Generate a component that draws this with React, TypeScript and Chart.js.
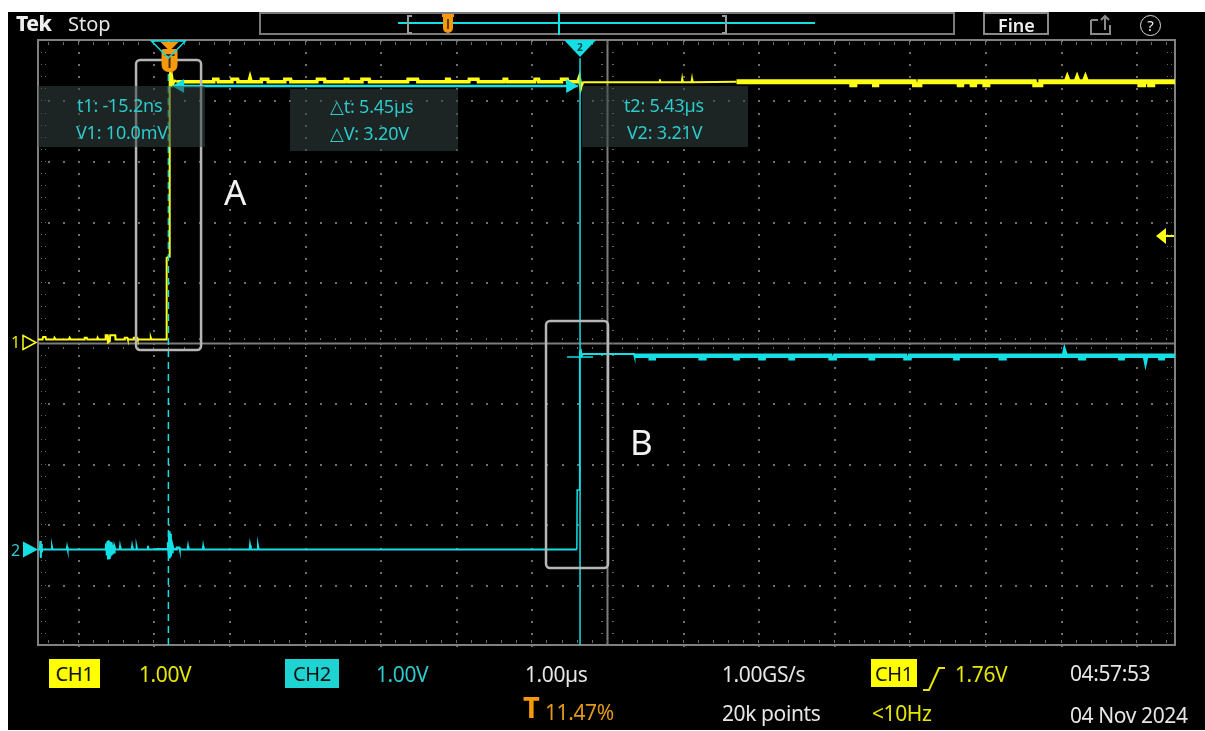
import React, { useEffect, useRef } from "react";
import { Chart, registerables } from "chart.js";

Chart.register(...registerables);

// ---------- acquisition settings (µs on x, divisions on y) ----------
const X_MIN_US = -1.74;
const X_MAX_US = 13.3;
const GRID_CENTER_US = 5.786;
const US_PER_DIV = 1.0;
const H_MAJOR_HALF = 7;
const V_DIV_HALF = 5;
const CH1_VOLTS_PER_DIV = 1.0;
const CH2_VOLTS_PER_DIV = 1.0;
const CH1_POSITION_DIV = 0;
const CH2_POSITION_DIV = -3.42;
const TRIGGER_TIME_US = 0;
const TRIGGER_LEVEL_V = 1.76;
const CURSOR_T1_US = -0.0152;
const CURSOR_T2_US = 5.43;
const CURSOR_V1 = 0.01;
const CURSOR_V2 = 3.21;
const DELTA_ARROW_DIV = 4.24;
const arrowLineTimes = [0.08, 5.4];
const arrowHeadTimes = [0.14, 5.3];

// zoom boxes marked on the capture: [tStart, tEnd, divTop, divBottom]
const boxA = [-0.443, 0.417, 4.67, -0.124];
const boxB = [4.98, 5.8, 0.355, -3.727];

// ---------- CH1 samples [t µs, V] ----------
const ch1Samples: [number, number][] = [
  [-1.74, 0.05], [-1.68, 0.05], [-1.672, 0.09], [-1.64, 0.09], [-1.632, 0.05],
  [-1.53, 0.05], [-1.522, 0.08], [-1.505, 0.05],
  [-1.33, 0.05], [-1.322, 0.08], [-1.305, 0.05],
  [-1.13, 0.05], [-1.122, 0.08], [-1.095, 0.08], [-1.087, 0.05],
  [-0.96, 0.05], [-0.952, 0.08], [-0.94, 0.05],
  [-0.85, 0.05], [-0.845, 0.12], [-0.82, 0.12], [-0.815, 0.0], [-0.79, 0.02], [-0.785, 0.12], [-0.72, 0.12], [-0.715, 0.05],
  [-0.6, 0.05], [-0.592, 0.08], [-0.56, 0.08], [-0.552, 0.05],
  [-0.48, 0.05], [-0.472, 0.08], [-0.43, 0.08], [-0.422, 0.05],
  [-0.255, 0.05], [-0.248, 0.08], [-0.24, 0.05],
  [-0.045, 0.05], [-0.038, 1.4], [-0.005, 1.42], [0.002, 4.4], [0.01, 4.48], [0.02, 4.22], [0.035, 4.4], [0.05, 4.27], [0.07, 4.33], [0.1, 4.31],
  [0.58, 4.31], [0.585, 4.35], [0.64, 4.35], [0.645, 4.31],
  [0.82, 4.31], [0.825, 4.35], [0.9, 4.35], [0.905, 4.31],
  [1.05, 4.31], [1.065, 4.38], [1.08, 4.31],
  [1.21, 4.31], [1.215, 4.35], [1.3, 4.35], [1.305, 4.31],
  [1.52, 4.31], [1.525, 4.35], [1.6, 4.35], [1.605, 4.31],
  [1.95, 4.31], [1.955, 4.35], [2.05, 4.35], [2.055, 4.31],
  [2.32, 4.31], [2.325, 4.35], [2.36, 4.35], [2.365, 4.31],
  [2.54, 4.31], [2.545, 4.35], [2.64, 4.35], [2.645, 4.31],
  [3.15, 4.31], [3.155, 4.35], [3.28, 4.35], [3.285, 4.31],
  [3.66, 4.31], [3.665, 4.35], [3.7, 4.35], [3.705, 4.31],
  [3.96, 4.31], [3.965, 4.35], [4.08, 4.35], [4.085, 4.31],
  [4.42, 4.31], [4.425, 4.35], [4.46, 4.35], [4.465, 4.31],
  [4.83, 4.31], [4.835, 4.35], [4.88, 4.35], [4.885, 4.31],
  [5.18, 4.31], [5.185, 4.35], [5.26, 4.35], [5.265, 4.31],
  [5.4, 4.31], [5.42, 4.38], [5.44, 4.22], [5.46, 4.3],
  [6.48, 4.3], [6.486, 4.35], [6.492, 4.3],
  [6.775, 4.3], [6.781, 4.35], [6.787, 4.3],
  [6.905, 4.3], [6.911, 4.35], [6.917, 4.3],
  [7.5, 4.31],
  [9.02, 4.31], [9.025, 4.26], [9.06, 4.26], [9.065, 4.31],
  [9.32, 4.31], [9.325, 4.26], [9.35, 4.26], [9.355, 4.31],
  [9.85, 4.31], [9.855, 4.26], [9.92, 4.26], [9.925, 4.31],
  [10.44, 4.31], [10.445, 4.26], [10.48, 4.26], [10.485, 4.31],
  [10.61, 4.31], [10.615, 4.26], [10.65, 4.26], [10.655, 4.31],
  [10.78, 4.31], [10.785, 4.26], [10.82, 4.26], [10.825, 4.31],
  [11.44, 4.31], [11.445, 4.26], [11.52, 4.26], [11.525, 4.31],
  [11.86, 4.31], [11.875, 4.36], [11.89, 4.31],
  [11.99, 4.31], [12.005, 4.36], [12.02, 4.31],
  [12.1, 4.31], [12.115, 4.36], [12.13, 4.31],
  [12.83, 4.31], [12.835, 4.26], [12.88, 4.26], [12.885, 4.31],
  [12.96, 4.31], [12.965, 4.26], [13.0, 4.26], [13.005, 4.31],
  [13.3, 4.31],
];

// ---------- CH2 samples [t µs, V] ----------
const ch2Samples: [number, number][] = [
  [-1.74, 0.0], [-1.715, 0.0], [-1.71, 0.14], [-1.703, -0.14], [-1.696, 0.09], [-1.69, -0.05], [-1.683, 0.0],
  [-1.56, 0.0], [-1.555, 0.04], [-1.548, 0.0],
  [-1.36, 0.0], [-1.355, 0.04], [-1.348, 0.0],
  [-0.845, 0.0], [-0.838, 0.1], [-0.83, -0.1], [-0.822, 0.14], [-0.814, -0.15], [-0.806, 0.15], [-0.798, -0.14],
  [-0.79, 0.13], [-0.782, -0.12], [-0.774, 0.12], [-0.766, -0.1], [-0.758, 0.08], [-0.75, -0.08], [-0.742, 0.06],
  [-0.734, -0.05], [-0.726, 0.04], [-0.716, 0.0],
  [-0.66, 0.0], [-0.655, 0.05], [-0.648, 0.0],
  [-0.5, 0.0], [-0.495, 0.05], [-0.488, 0.0],
  [-0.44, 0.0], [-0.435, 0.04], [-0.428, 0.0],
  [-0.29, 0.0], [-0.285, 0.06], [-0.278, 0.0],
  [-0.03, 0.0], [-0.022, 0.12], [-0.014, -0.08], [-0.006, 0.3], [0.002, -0.15], [0.01, 0.26], [0.018, -0.12],
  [0.026, 0.15], [0.034, -0.05], [0.042, 0.06], [0.055, 0.0],
  [0.09, 0.0], [0.095, 0.03], [0.13, 0.03], [0.135, 0.0],
  [0.24, 0.0], [0.245, 0.05], [0.252, 0.0],
  [0.44, 0.0], [0.445, 0.05], [0.452, 0.0],
  [1.06, 0.0], [1.065, 0.07], [1.075, 0.0],
  [1.165, 0.0], [1.17, 0.06], [1.18, 0.0],
  [5.388, 0.0], [5.392, 0.98], [5.42, 0.98], [5.425, 3.27], [5.44, 3.29], [5.452, 3.2], [5.47, 3.23],
  [6.144, 3.23], [6.15, 3.2],
  [6.36, 3.2], [6.365, 3.16], [6.4, 3.16], [6.405, 3.2],
  [7.02, 3.2], [7.025, 3.16], [7.07, 3.16], [7.075, 3.2],
  [7.48, 3.2], [7.485, 3.16], [7.51, 3.16], [7.515, 3.2],
  [7.81, 3.2], [7.815, 3.16], [7.86, 3.16], [7.865, 3.2],
  [8.21, 3.2], [8.215, 3.16], [8.24, 3.16], [8.245, 3.2],
  [8.74, 3.2], [8.745, 3.16], [8.8, 3.16], [8.805, 3.2],
  [9.27, 3.2], [9.275, 3.16], [9.3, 3.16], [9.305, 3.2],
  [9.73, 3.2], [9.735, 3.16], [9.79, 3.16], [9.795, 3.2],
  [10.39, 3.2], [10.395, 3.16], [10.42, 3.16], [10.425, 3.2],
  [10.99, 3.2], [10.995, 3.16], [11.04, 3.16], [11.045, 3.2],
  [11.83, 3.2], [11.84, 3.26], [11.855, 3.2],
  [12.04, 3.2], [12.045, 3.16], [12.09, 3.16], [12.095, 3.2],
  [12.57, 3.2], [12.575, 3.16], [12.61, 3.16], [12.615, 3.2],
  [12.9, 3.2], [12.91, 3.14], [12.92, 3.2],
  [13.1, 3.2], [13.105, 3.16], [13.14, 3.16], [13.145, 3.2],
  [13.3, 3.2],
];

// ---------- colours / fonts ----------
const YELLOW = "#ffff14";
const CYAN = "#14dfe4";
const CYAN_TXT = "#2ccaca";
const YELLOW_TXT = "#e6e600";
const ORANGE = "#f49a0c";
const WHITE_TXT = "#e6e6e6";
const FONT = '"Noto Sans", "DejaVu Sans", sans-serif';

const ch1Div = (v: number) => v / CH1_VOLTS_PER_DIV + CH1_POSITION_DIV;
const ch2Div = (v: number) => v / CH2_VOLTS_PER_DIV + CH2_POSITION_DIV;

const graticulePlugin = {
  id: "graticule",
  beforeDatasetsDraw(chart: any) {
    const { ctx, chartArea: a, scales } = chart;
    const xs = scales.x;
    const ys = scales.y;
    const px = (t: number) => Math.round(xs.getPixelForValue(t));
    const py = (d: number) => Math.round(ys.getPixelForValue(d));
    const xMinor: number[] = [];
    for (let m = -40; m <= 40; m++) {
      const t = GRID_CENTER_US + (m * US_PER_DIV) / 5;
      if (t > X_MIN_US && t < X_MAX_US) xMinor.push(t);
    }
    const yMinor: number[] = [];
    for (let m = -V_DIV_HALF * 5; m <= V_DIV_HALF * 5; m++) yMinor.push(m / 5);
    ctx.save();
    ctx.fillStyle = "#6e6e6e";
    for (let k = -H_MAJOR_HALF; k <= H_MAJOR_HALF; k++) {
      if (k === 0) continue;
      const x = px(GRID_CENTER_US + k * US_PER_DIV);
      for (const d of yMinor) ctx.fillRect(x, py(d), 2, 2);
    }
    for (let j = -V_DIV_HALF + 1; j < V_DIV_HALF; j++) {
      if (j === 0) continue;
      const y = py(j);
      for (const t of xMinor) ctx.fillRect(px(t), y, 2, 2);
    }
    ctx.strokeStyle = "#7c7c7c";
    ctx.lineWidth = 2;
    const cx = px(GRID_CENTER_US);
    const cy = py(0);
    ctx.beginPath();
    ctx.moveTo(a.left, cy + 0.5);
    ctx.lineTo(a.right, cy + 0.5);
    ctx.moveTo(cx + 0.5, a.top);
    ctx.lineTo(cx + 0.5, a.bottom);
    ctx.stroke();
    ctx.fillStyle = "#6a6a6a";
    for (const t of xMinor) {
      const x = px(t);
      ctx.fillRect(x, cy - 5, 1, 2);
      ctx.fillRect(x, cy + 4, 1, 2);
      ctx.fillRect(x, a.top + 2, 1, 3);
      ctx.fillRect(x, a.bottom - 5, 1, 3);
    }
    for (const d of yMinor) {
      const y = py(d);
      ctx.fillRect(cx - 6, y, 2, 1);
      ctx.fillRect(cx + 5, y, 2, 1);
      ctx.fillRect(a.left + 3, y, 1, 1);
      ctx.fillRect(a.left + 7, y, 1, 1);
      ctx.fillRect(a.right - 8, y, 1, 1);
      ctx.fillRect(a.right - 4, y, 1, 1);
    }
    ctx.strokeStyle = "#808080";
    ctx.lineWidth = 2;
    ctx.strokeRect(a.left, a.top, a.right - a.left, a.bottom - a.top);
    ctx.restore();
  },
};

const overlayPlugin = {
  id: "scopeOverlay",
  afterDatasetsDraw(chart: any) {
    const { ctx, chartArea: a, scales } = chart;
    const xs = scales.x;
    const ys = scales.y;
    ctx.save();
    ctx.strokeStyle = "#b6b6b6";
    ctx.lineWidth = 2.5;
    for (const b of [boxA, boxB]) {
      const x0 = xs.getPixelForValue(b[0]);
      const x1 = xs.getPixelForValue(b[1]);
      const y0 = ys.getPixelForValue(b[2]);
      const y1 = ys.getPixelForValue(b[3]);
      ctx.beginPath();
      ctx.roundRect(x0, y0, x1 - x0, y1 - y0, 4);
      ctx.stroke();
    }
    const tr = xs.getPixelForValue(TRIGGER_TIME_US);
    ctx.fillStyle = ORANGE;
    ctx.beginPath();
    ctx.moveTo(tr - 9, a.top + 2);
    ctx.lineTo(tr + 9, a.top + 2);
    ctx.lineTo(tr, a.top + 11);
    ctx.closePath();
    ctx.fill();
    ctx.beginPath();
    ctx.roundRect(tr - 8, a.top + 9, 16, 23, [2, 2, 7, 7]);
    ctx.fill();
    ctx.strokeStyle = "#4a2a00";
    ctx.lineWidth = 2;
    ctx.beginPath();
    ctx.moveTo(tr - 5, a.top + 15);
    ctx.lineTo(tr + 5, a.top + 15);
    ctx.moveTo(tr, a.top + 15);
    ctx.lineTo(tr, a.top + 28);
    ctx.stroke();
    const c1 = xs.getPixelForValue(CURSOR_T1_US);
    ctx.strokeStyle = CYAN;
    ctx.lineWidth = 1.5;
    ctx.beginPath();
    ctx.moveTo(c1 - 17, a.top + 1);
    ctx.lineTo(c1 + 17, a.top + 1);
    ctx.lineTo(c1, a.top + 18);
    ctx.closePath();
    ctx.stroke();
    const c2 = xs.getPixelForValue(CURSOR_T2_US);
    ctx.fillStyle = CYAN;
    ctx.beginPath();
    ctx.moveTo(c2 - 16, a.top);
    ctx.lineTo(c2 + 16, a.top);
    ctx.lineTo(c2, a.top + 17);
    ctx.closePath();
    ctx.fill();
    const yl = ys.getPixelForValue(ch1Div(TRIGGER_LEVEL_V));
    ctx.fillStyle = YELLOW;
    ctx.beginPath();
    ctx.moveTo(a.right - 19, yl);
    ctx.lineTo(a.right - 9, yl - 8);
    ctx.lineTo(a.right - 9, yl + 8);
    ctx.closePath();
    ctx.fill();
    ctx.fillRect(a.right - 10, yl - 1, 9, 2);
    const g1 = ys.getPixelForValue(CH1_POSITION_DIV);
    ctx.strokeStyle = YELLOW;
    ctx.lineWidth = 1.5;
    ctx.beginPath();
    ctx.moveTo(a.left - 15, g1 - 7);
    ctx.lineTo(a.left - 2, g1);
    ctx.lineTo(a.left - 15, g1 + 7);
    ctx.closePath();
    ctx.stroke();
    const g2 = ys.getPixelForValue(CH2_POSITION_DIV);
    ctx.fillStyle = CYAN;
    ctx.beginPath();
    ctx.moveTo(a.left - 15, g2 - 8);
    ctx.lineTo(a.left, g2);
    ctx.lineTo(a.left - 15, g2 + 8);
    ctx.closePath();
    ctx.fill();
    ctx.restore();
  },
};

function Txt(props: {
  x: number;
  base: number;
  size: number;
  color: string;
  weight?: number;
  ls?: number;
  children: React.ReactNode;
}) {
  const { x, base, size, color, weight, ls, children } = props;
  return (
    <div
      style={{
        position: "absolute",
        left: x,
        top: base - 0.888 * size,
        fontSize: size,
        lineHeight: `${size}px`,
        color,
        fontWeight: weight ?? 400,
        fontFamily: FONT,
        letterSpacing: ls ?? 0,
        whiteSpace: "nowrap",
      }}
    >
      {children}
    </div>
  );
}

function Badge(props: { x: number; y: number; w: number; h: number; bg: string; label: string }) {
  const { x, y, w, h, bg, label } = props;
  return (
    <div
      style={{
        position: "absolute",
        left: x,
        top: y,
        width: w,
        height: h,
        background: bg,
        color: "#111",
        fontFamily: FONT,
        fontSize: 20,
        letterSpacing: -0.3,
        display: "flex",
        alignItems: "center",
        justifyContent: "center",
      }}
    >
      {label}
    </div>
  );
}

const abs = (o: React.CSSProperties): React.CSSProperties => ({ position: "absolute", ...o });

export default function App() {
  const canvasRef = useRef<HTMLCanvasElement | null>(null);

  useEffect(() => {
    if (!canvasRef.current) return;
    const ch1Data = ch1Samples.map(([t, v]) => ({ x: t, y: ch1Div(v) }));
    const ch2Data = ch2Samples.map(([t, v]) => ({ x: t, y: ch2Div(v) }));
    const chart = new Chart(canvasRef.current, {
      type: "line",
      data: {
        datasets: [
          {
            label: "cursor 1",
            data: [
              { x: CURSOR_T1_US, y: -V_DIV_HALF },
              { x: CURSOR_T1_US, y: V_DIV_HALF },
            ],
            borderColor: CYAN,
            borderWidth: 1.5,
            borderDash: [7, 5],
            pointRadius: 0,
          },
          {
            label: "cursor 2",
            data: [
              { x: CURSOR_T2_US, y: -V_DIV_HALF },
              { x: CURSOR_T2_US, y: V_DIV_HALF - 0.3 },
            ],
            borderColor: CYAN,
            borderWidth: 1.5,
            pointRadius: 0,
          },
          {
            label: "cursor hairs",
            data: [
              { x: CURSOR_T1_US, y: ch2Div(CURSOR_V1) },
              { x: CURSOR_T2_US, y: ch2Div(CURSOR_V2) - 0.03 },
            ],
            showLine: false,
            pointStyle: "line",
            pointRadius: 13,
            borderColor: CYAN,
            pointBorderWidth: 1.5,
          },
          {
            label: "delta arrow heads",
            data: arrowHeadTimes.map((t) => ({ x: t, y: DELTA_ARROW_DIV })),
            showLine: false,
            pointStyle: "triangle",
            pointRadius: 8,
            pointRotation: [270, 90],
            pointBackgroundColor: CYAN,
            pointBorderWidth: 0,
          },
          {
            label: "delta arrow",
            data: arrowLineTimes.map((t) => ({ x: t, y: DELTA_ARROW_DIV })),
            borderColor: CYAN,
            borderWidth: 2.5,
            pointRadius: 0,
          },
          {
            label: "CH1",
            data: ch1Data,
            borderColor: YELLOW,
            borderWidth: 2,
            pointRadius: 0,
            segment: {
              borderWidth: (c: any) => {
                const t = c.p0.parsed.x;
                if (t < 0.1) return 2;
                if (t < 5.46) return 3.5;
                if (t < 7.5) return 2;
                return 5;
              },
            },
          },
          {
            label: "CH2",
            data: ch2Data,
            borderColor: CYAN,
            borderWidth: 2,
            pointRadius: 0,
            segment: {
              borderWidth: (c: any) => {
                const t = c.p0.parsed.x;
                if (t >= 5.38 && t < 5.425) return 1.5;
                if (t >= 6.147) return 4.5;
                return 2;
              },
            },
          },
        ],
      },
      options: {
        animation: false,
        responsive: false,
        devicePixelRatio: 1,
        events: [],
        layout: { padding: { left: 38, top: 40, right: 30, bottom: 86 } },
        plugins: { legend: { display: false }, tooltip: { enabled: false } },
        elements: { line: { tension: 0 } },
        scales: {
          x: { type: "linear", min: X_MIN_US, max: X_MAX_US, display: false },
          y: { type: "linear", min: -V_DIV_HALF, max: V_DIV_HALF, display: false },
        },
      } as any,
      plugins: [graticulePlugin, overlayPlugin],
    });
    return () => chart.destroy();
  }, []);

  const readoutBox: React.CSSProperties = { position: "absolute", background: "rgba(52,66,66,0.55)" };
  const LS = -0.4;

  return (
    <div style={abs({ left: 0, top: 0, width: 1205, height: 731, background: "#fff", overflow: "hidden", fontFamily: FONT })}>
      <div style={abs({ left: 8, top: 12, width: 1197, height: 718, background: "#000" })} />
      <canvas ref={canvasRef} width={1205} height={731} style={abs({ left: 0, top: 0 })} />

      {/* top bar */}
      <Txt x={16} base={32} size={21} color="#eeeeee" weight={800} ls={-0.5}>Tek</Txt>
      <Txt x={68} base={32} size={20} color={WHITE_TXT}>Stop</Txt>
      <div style={abs({ left: 259, top: 12, width: 696, height: 23, boxSizing: "border-box", border: "2px solid #7a7a7a" })} />
      <div style={abs({ left: 398, top: 22, width: 417, height: 2, background: CYAN })} />
      <div style={abs({ left: 407, top: 15, width: 5, height: 19, boxSizing: "border-box", borderLeft: "2px solid #9a9a9a", borderTop: "2px solid #9a9a9a", borderBottom: "2px solid #9a9a9a" })} />
      <div style={abs({ left: 722, top: 15, width: 5, height: 19, boxSizing: "border-box", borderRight: "2px solid #9a9a9a", borderTop: "2px solid #9a9a9a", borderBottom: "2px solid #9a9a9a" })} />
      <div style={abs({ left: 558, top: 12, width: 2, height: 23, background: CYAN })} />
      <div style={abs({ left: 442, top: 14, width: 12, height: 3, background: ORANGE })} />
      <div style={abs({ left: 443, top: 16, width: 10, height: 17, background: ORANGE, borderRadius: "2px 2px 5px 5px" })} />
      <div style={abs({ left: 447, top: 19, width: 2, height: 10, background: "#6a3a00" })} />
      <div style={abs({ left: 983, top: 12, width: 66, height: 23, boxSizing: "border-box", border: "2px solid #8a8a8a" })} />
      <Txt x={998} base={32} size={18} color="#eeeeee" weight={600}>Fine</Txt>
      <svg style={abs({ left: 1088, top: 13, width: 26, height: 24 })} viewBox="0 0 26 24">
        <path d="M3 7 H10 M3 7 V21 H22 V12" stroke="#8a8a8a" strokeWidth="2" fill="none" />
        <path d="M17 17 V3 M13 7 L17 3 L21 7" stroke="#8a8a8a" strokeWidth="2" fill="none" />
      </svg>
      <div style={abs({ left: 1140, top: 15, width: 21, height: 21, boxSizing: "border-box", border: "1.5px solid #dddddd", borderRadius: "50%", color: "#eeeeee", fontSize: 15, lineHeight: "18px", textAlign: "center", fontFamily: FONT })}>?</div>

      {/* cursor readouts */}
      <div style={{ ...readoutBox, left: 38, top: 86, width: 167, height: 61 }} />
      <div style={{ ...readoutBox, left: 290, top: 89, width: 168, height: 62 }} />
      <div style={{ ...readoutBox, left: 582, top: 86, width: 166, height: 61 }} />
      <Txt x={77} base={112} size={18} color={CYAN_TXT} ls={-0.2}>t1: -15.2ns</Txt>
      <Txt x={76} base={139} size={18} color={CYAN_TXT} ls={-0.2}>V1: 10.0mV</Txt>
      <Txt x={330} base={113} size={18} color={CYAN_TXT} ls={-0.2}>△t: 5.45µs</Txt>
      <Txt x={330} base={140} size={18} color={CYAN_TXT} ls={-0.2}>△V: 3.20V</Txt>
      <Txt x={624} base={112} size={18} color={CYAN_TXT} ls={-0.2}>t2: 5.43µs</Txt>
      <Txt x={627} base={139} size={18} color={CYAN_TXT} ls={-0.2}>V2: 3.21V</Txt>
      <Txt x={577} base={51} size={10} color="#034848" weight={700}>2</Txt>

      {/* annotations */}
      <Txt x={224} base={205} size={35} color="#f2f2f2">A</Txt>
      <Txt x={630} base={455} size={35} color="#f2f2f2">B</Txt>

      {/* channel ground labels */}
      <Txt x={11} base={348} size={16} color={YELLOW_TXT}>1</Txt>
      <Txt x={11} base={556} size={16} color={CYAN_TXT}>2</Txt>

      {/* bottom readouts */}
      <Badge x={49} y={659} w={51} h={29} bg="#ffff00" label="CH1" />
      <Txt x={139} base={683} size={21} color={YELLOW_TXT} ls={LS}>1.00V</Txt>
      <Badge x={285} y={659} w={54} h={29} bg="#1fd3d3" label="CH2" />
      <Txt x={376} base={683} size={21} color={CYAN_TXT} ls={LS}>1.00V</Txt>
      <Txt x={525} base={683} size={21} color={WHITE_TXT} ls={LS}>1.00µs</Txt>
      <Txt x={523} base={718} size={29} color={ORANGE} weight={700}>T</Txt>
      <Txt x={545} base={721} size={21} color="#e39a1a" ls={LS}>11.47%</Txt>
      <Txt x={722} base={683} size={21} color={WHITE_TXT} ls={LS}>1.00GS/s</Txt>
      <Txt x={722} base={722} size={21} color={WHITE_TXT} ls={LS}>20k points</Txt>
      <Badge x={871} y={659} w={46} h={28} bg="#ffff00" label="CH1" />
      <svg style={abs({ left: 920, top: 664, width: 28, height: 30 })} viewBox="0 0 28 30">
        <path d="M3 26 H9 L19 4 H25" stroke={YELLOW_TXT} strokeWidth="2" fill="none" />
      </svg>
      <Txt x={955} base={683} size={21} color={YELLOW_TXT} ls={LS}>1.76V</Txt>
      <Txt x={872} base={722} size={21} color={YELLOW_TXT} ls={LS}>&lt;10Hz</Txt>
      <Txt x={1070} base={682} size={21} color={WHITE_TXT} ls={LS}>04:57:53</Txt>
      <Txt x={1070} base={724} size={21} color={WHITE_TXT} ls={LS}>04 Nov 2024</Txt>
    </div>
  );
}
